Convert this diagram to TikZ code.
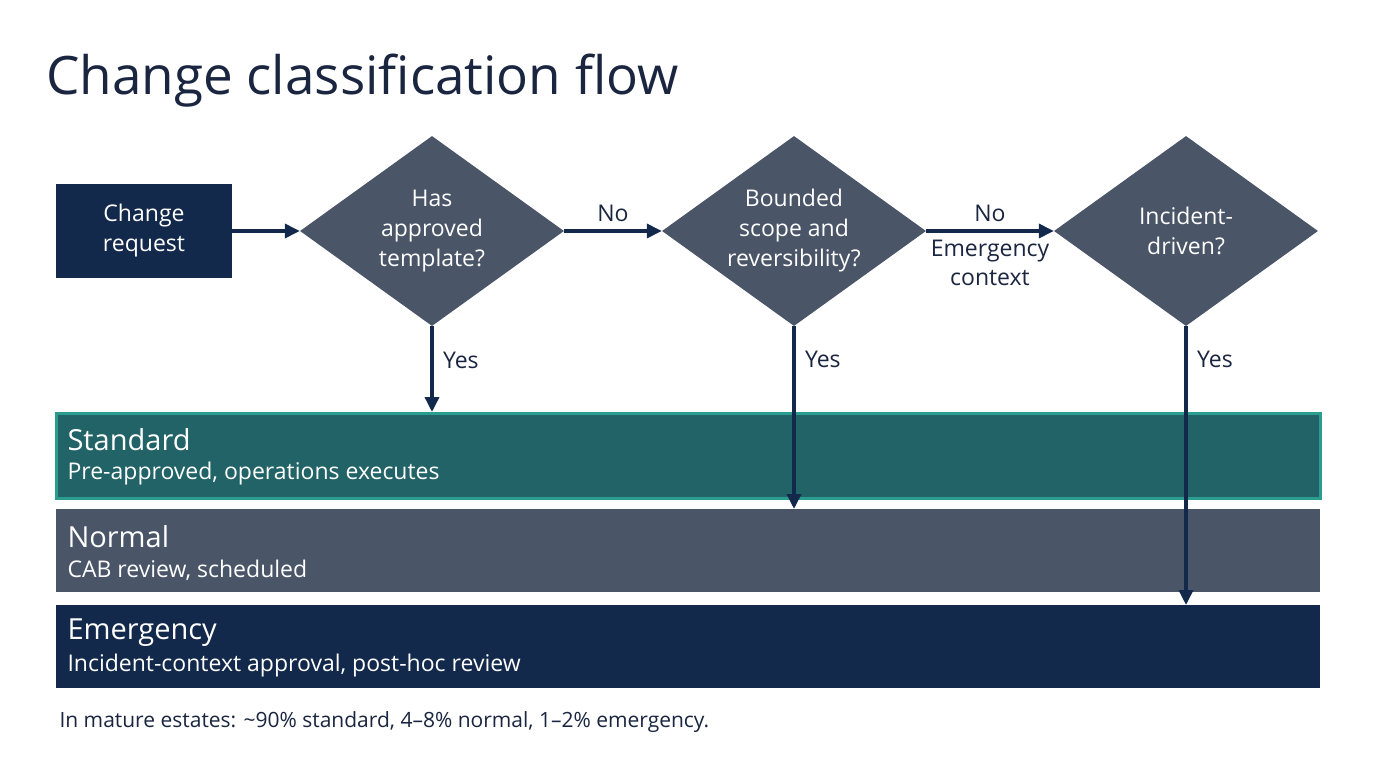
\documentclass[tikz,border=0pt]{standalone}
\usepackage{fontspec}
\setmainfont{Open Sans}
\usetikzlibrary{shapes.geometric,arrows.meta}
\definecolor{navy}{HTML}{13294B}
\definecolor{slate}{HTML}{4A5568}
\definecolor{teal1}{HTML}{216366}
\definecolor{tealb}{HTML}{2A9D8F}
\definecolor{ink}{HTML}{1A2540}
\begin{document}
\begin{tikzpicture}[x=1pt,y=-1pt,
  dia/.style={diamond,fill=slate,minimum width=264pt,minimum height=190pt,inner sep=0pt,aspect=1.39,text=white,align=center,font=\fontsize{23}{30}\selectfont},
  arr/.style={-{Triangle[length=15pt,width=14pt]},line width=3.5pt,draw=navy},
  lab/.style={font=\fontsize{23}{29}\selectfont,text=ink,align=center},
  band/.style={anchor=north west,minimum width=1264pt,inner sep=0pt},
  bt/.style={anchor=west,text=white,font=\fontsize{29}{33}\selectfont},
  bs/.style={anchor=west,text=white,font=\fontsize{23}{27}\selectfont}]
\useasboundingbox (0,0) rectangle (1376,768);
\fill[white] (0,0) rectangle (1376,768);
\node[anchor=base west,text=ink,font=\fontsize{53}{58}\selectfont,inner sep=0pt] (title) at (46,94) {Change classification flow};
\node[fill=navy,minimum width=176pt,minimum height=94pt,text=white,align=center,font=\fontsize{23}{30}\selectfont] (cr) at (144,231) {Change\\request};
\node[dia] (d1) at (432,231) {Has\\approved\\template?};
\node[dia] (d2) at (794,231) {Bounded\\scope and\\reversibility?};
\node[dia] (d3) at (1186,231) {Incident-\\driven?};
\node[band,fill=teal1,draw=tealb,line width=3pt,minimum height=85pt] (std) at (55,412) {};
\node[band,fill=slate,minimum height=83pt] (nrm) at (56,509) {};
\node[band,fill=navy,minimum height=83pt] (emg) at (56,605) {};
\node[bt] (t1) at (64,440) {Standard};
\node[bs] (s1) at (64,474) {Pre-approved, operations executes};
\node[bt] (t2) at (64,537) {Normal};
\node[bs] (s2) at (64,570) {CAB review, scheduled};
\node[bt] (t3) at (64,633) {Emergency};
\node[bs] (s3) at (64,666) {Incident-context approval, post-hoc review};
\node[anchor=west,text=ink,font=\fontsize{21}{25}\selectfont] (foot) at (56,722) {In mature estates: \textasciitilde90\% standard, 4–8\% normal, 1–2\% emergency.};
\draw[arr] (cr.east) -- (d1.west);
\draw[arr] (d1.east) -- node[lab,above=4pt] {No} (d2.west);
\draw[arr] (d2.east) -- node[lab,above=4pt] {No} node[lab,below=4pt] {Emergency\\context} (d3.west);
\draw[arr] (d1.south) -- node[lab,right=6pt,pos=0.4] {Yes} (d1.south |- std.north);
\draw[arr] (d2.south) -- node[lab,right=6pt,pos=0.18] {Yes} (d2.south |- nrm.north);
\draw[arr] (d3.south) -- node[lab,right=6pt,pos=0.12] {Yes} (d3.south |- emg.north);
\end{tikzpicture}
\end{document}
